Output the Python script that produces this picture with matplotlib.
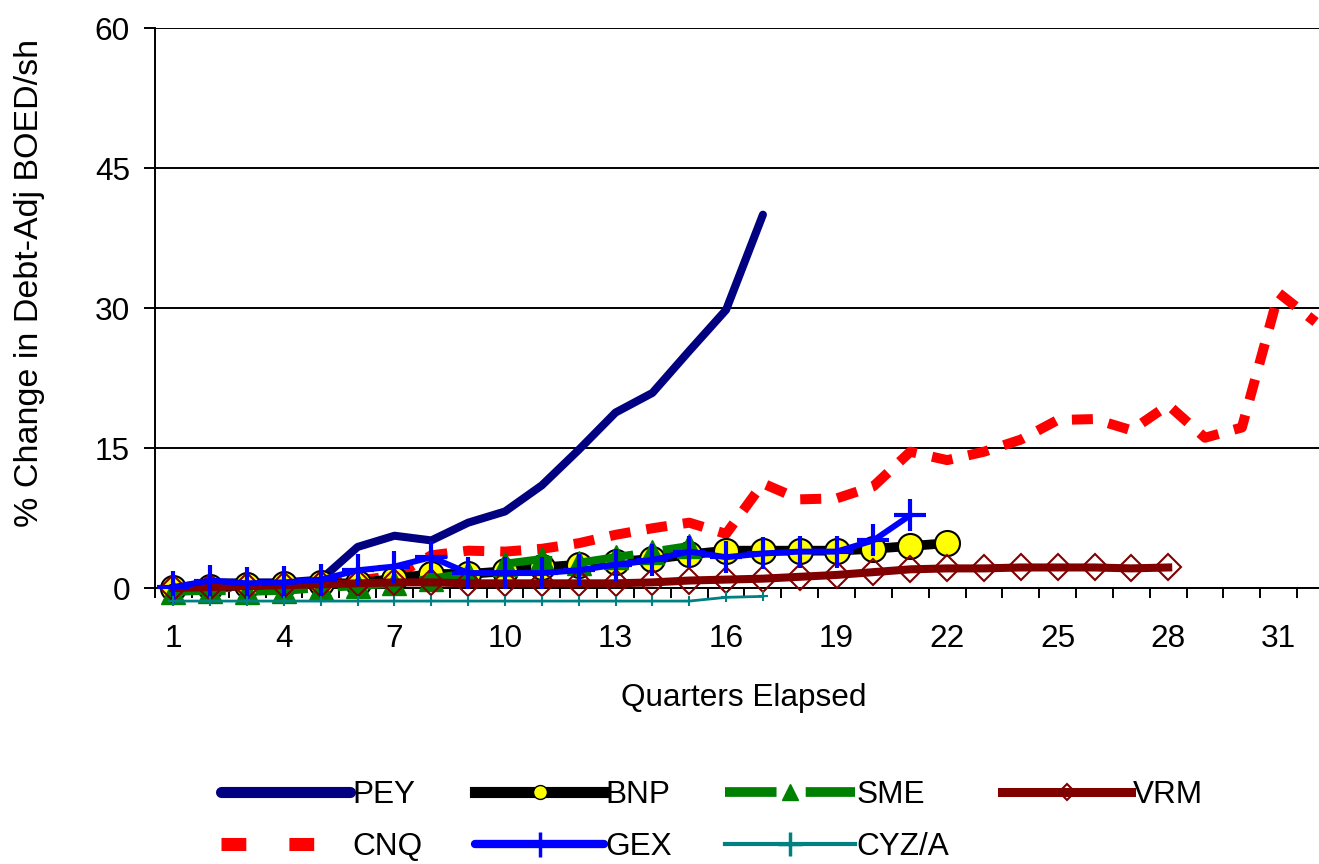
import numpy as np
import matplotlib
matplotlib.use("Agg")
import matplotlib.pyplot as plt
from matplotlib.lines import Line2D

plt.rcParams['font.family'] = ['Liberation Sans', 'DejaVu Sans']

# quarter-by-quarter % change
pey = [0, 0.6, 0.6, 0.6, 0.9, 4.4, 5.6, 5.1, 7.0, 8.2, 11.0, 14.8, 18.8, 20.9, 25.4, 29.8, 40.0]
bnp = [0, 0.1, 0.3, 0.4, 0.5, 0.5, 1.0, 1.5, 1.5, 1.8, 2.2, 2.5, 2.8, 3.1, 3.6,
       4.0, 4.0, 4.0, 4.0, 4.2, 4.5, 4.8]
sme = [-0.4, -0.3, -0.4, -0.3, 0.0, 0.2, 0.5, 1.0, 1.6, 2.6, 3.1, 2.7, 3.3, 3.9, 4.5]
vrm = [0, 0.1, 0.2, 0.3, 0.4, 0.5, 0.6, 0.6, 0.5, 0.5, 0.5, 0.5, 0.5, 0.6, 0.8,
       0.9, 1.0, 1.2, 1.4, 1.7, 2.0, 2.1, 2.1, 2.2, 2.2, 2.2, 2.1, 2.2]
cnq = [0, 0.1, 0.1, 0.2, 0.4, 0.8, 1.3, 3.5, 4.0, 3.9, 4.2, 4.8, 5.7, 6.4, 7.0,
       5.8, 11.2, 9.5, 9.6, 10.9, 14.6, 13.7, 14.6, 15.9, 18.0, 18.1, 16.9, 19.6,
       16.1, 17.2, 31.6, 28.5]
gex = [0.1, 0.8, 0.5, 0.6, 0.9, 1.9, 2.3, 3.3, 1.6, 1.6, 1.6, 1.9, 2.5, 3.0, 3.9,
       3.3, 3.7, 3.9, 3.9, 5.1, 7.8]
cyz = [-1.4, -1.4, -1.4, -1.4, -1.4, -1.4, -1.4, -1.4, -1.4, -1.4, -1.4, -1.4,
       -1.4, -1.4, -1.4, -1.0, -0.9]

yticks = [0, 15, 30, 45, 60]
xticks = list(range(1, 32, 3))

def q(vals):
    return np.arange(1, len(vals) + 1)

FS = 22.7
fig = plt.figure(figsize=(13.19, 8.64), dpi=100)
ax = fig.add_axes([155/1319, 1 - 588/864, (1334 - 155)/1319, (588 - 28)/864])

# series, drawn so that later ones sit on top
ax.plot(q(cnq), cnq, color="#FF0000", lw=7.2, ls=(0, (2.1, 1.6)),
        dash_capstyle="butt", clip_on=False, zorder=3)
ax.plot(q(pey), pey, color="#000080", lw=5.8, solid_capstyle="round",
        solid_joinstyle="round", clip_on=False, zorder=4)
ax.plot(q(bnp), bnp, color="black", lw=7, marker="o", ms=18, mfc="#FFFF00",
        mec="black", mew=1.5, clip_on=False, zorder=5)
ax.plot(q(sme), sme, color="#008000", lw=5.8, ls=(0, (6.5, 3.7)), marker="^",
        ms=17, mfc="#008000", mec="#008000", clip_on=False, zorder=6)
ax.plot(q(vrm), vrm, color="#800000", lw=5.8, marker="D", ms=13, mfc="none",
        mec="#800000", mew=1.5, clip_on=False, zorder=7)
ax.plot(q(gex), gex, color="#0000FF", lw=4.3, marker="+", ms=23, mew=3,
        mec="#0000FF", clip_on=False, zorder=8)
ax.plot(q(cyz), cyz, color="#008080", lw=2, marker="+", ms=7, mew=1.5,
        clip_on=False, zorder=9)

ax.set_xlim(0.5, 32.5)
ax.set_ylim(0, 60)
ax.set_yticks(yticks)
ax.set_yticklabels([str(v) for v in yticks], fontsize=FS)
ax.set_xticks(xticks)
ax.set_xticklabels([str(v) for v in xticks], fontsize=FS)
ax.set_xticks(np.arange(0.5, 33, 1), minor=True)
ax.tick_params(axis="x", which="major", length=0, pad=26)
ax.tick_params(axis="x", which="minor", length=7, width=1.4, direction="out")
ax.tick_params(axis="y", which="major", length=8, width=1.4, direction="out", pad=10)
ax.grid(axis="y", color="black", lw=1.4)
ax.set_axisbelow(True)
for s in ["top", "right"]:
    ax.spines[s].set_visible(False)
for s in ["left", "bottom"]:
    ax.spines[s].set_linewidth(1.4)
    ax.spines[s].set_zorder(1)

fig.text(30/1319, 1 - 283/864, "% Change in Debt-Adj BOED/sh", rotation=90,
         ha="center", va="center", fontsize=24.5)
fig.text(744/1319, 1 - 698/864, "Quarters Elapsed", ha="center", va="center",
         fontsize=FS)

h = {
    "PEY": Line2D([], [], color="#000080", lw=8, solid_capstyle="round"),
    "BNP": Line2D([], [], color="black", lw=8, marker="o", ms=10, mfc="#FFFF00", mec="black"),
    "SME": Line2D([], [], color="#008000", lw=7, ls=(0, (5.3, 3.0)), dash_capstyle="butt",
                  marker="^", ms=12, mfc="#008000", mec="#008000"),
    "VRM": Line2D([], [], color="#800000", lw=6.5, marker="D", ms=8, mfc="none",
                  mec="#800000", mew=1.5),
    "CNQ": Line2D([], [], color="#FF0000", lw=9.4, ls=(0, (1.9, 3.3)), dash_capstyle="butt"),
    "GEX": Line2D([], [], color="#0000FF", lw=6, solid_capstyle="round", marker="+",
                  ms=18, mew=2.5),
    "CYZ/A": Line2D([], [], color="#008080", lw=3, marker="+", ms=17, mew=2.5),
}
# legend fills column by column; this order gives the two rows of the original
order = ["PEY", "CNQ", "BNP", "GEX", "SME", "CYZ/A", "VRM"]
fig.legend([h[k] for k in order], order, loc="center",
           bbox_to_anchor=(712/1319, 1 - 821/864),
           ncol=4, frameon=False, fontsize=FS, handlelength=4.1,
           handletextpad=0.05, columnspacing=1.68, labelspacing=0.7, numpoints=1)

fig.savefig("out.png", dpi=100)
